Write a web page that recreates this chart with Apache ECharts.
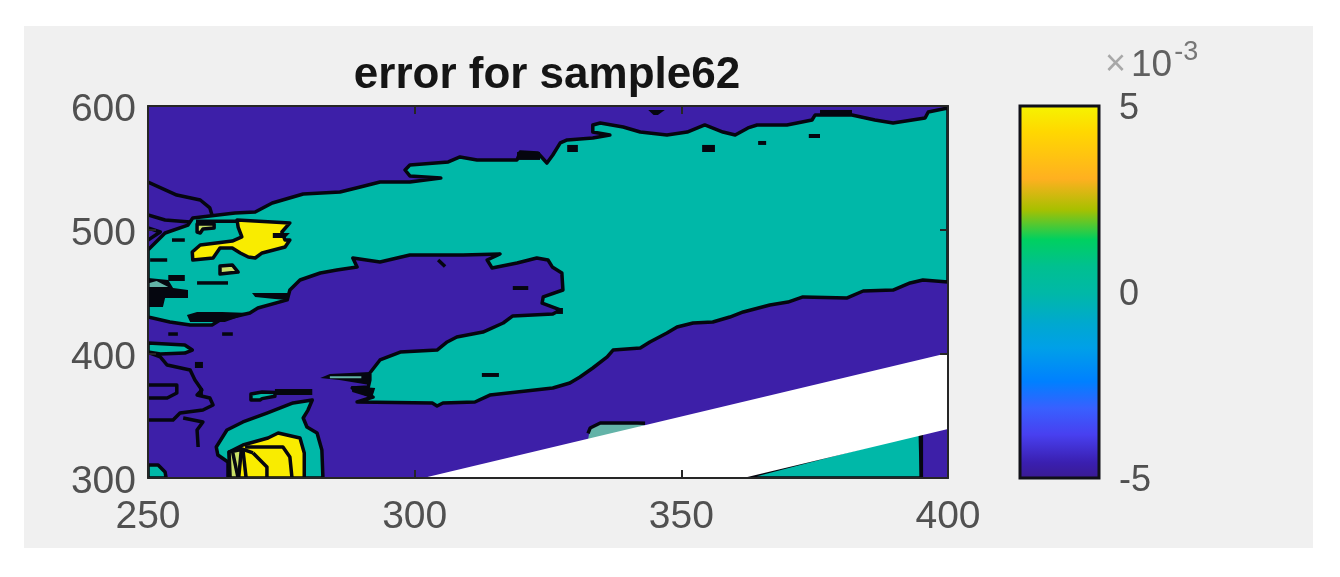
<!DOCTYPE html>
<html>
<head>
<meta charset="utf-8">
<title>error for sample62</title>
<script src="https://cdn.jsdelivr.net/npm/echarts@6/dist/echarts.min.js"></script>
<style>
html, body { margin: 0; padding: 0; background: #ffffff; }
#main { width: 1340px; height: 577px; }
</style>
</head>
<body>
<div id="main"></div>
<script>
// axis ranges and colour bar
var xRange = [250, 400];
var yRange = [300, 600];
var barRange = [-5, 5];
var barValues = [-5, -4.55, -3.8, -3.1, -2.39, -1.49, -0.86, -0.05, 0.68, 1.4, 2.2, 3.02, 4.28, 5];
var barColors = ['#3a1a90', '#3a1fb0', '#4840f0', '#3860ff', '#0080ff', '#00a0e8', '#00a8d0', '#00b8a8', '#00c090', '#00d060', '#a8c000', '#ffb020', '#ffd800', '#f5f500'];

// contour regions, in data units (x, y)
var lowRegions = [[[250, 300], [400, 300], [400, 600], [250, 600]]];

var zeroRegions = [
    [[250, 483.9], [253.2, 497.6], [257.5, 504], [258.4, 509.7], [266.3, 513.7], [270.1, 514.5], [273.3, 521.8], [279.1, 529],
     [286, 530.7], [289.8, 534.7], [293.5, 538.7], [299.1, 538.7], [304.9, 541.9], [299.1, 543.6], [298.2, 548.4], [299.1, 552.4],
     [306.3, 554.9], [308.5, 558.9], [311.7, 556.5], [319.2, 556.5], [319.8, 562.9], [323.1, 562.1], [324.8, 554], [325.9, 560.5],
     [327.3, 570.2], [328.6, 572.6], [333.4, 574.2], [336.6, 576.6], [333.4, 579], [333.4, 584.7], [334.8, 586.3], [339.1, 583.1],
     [342.3, 579], [347.3, 576.6], [351.1, 579], [354.4, 584.7], [357.8, 579], [360.1, 576.6], [362.5, 582.3], [364.2, 584.7],
     [369.8, 584.7], [371.7, 586.3], [374.5, 588.7], [375.1, 592.8], [382, 592.8], [386.3, 588.7], [389.7, 586.3], [395.7, 590.3],
     [396.3, 595.2], [400, 598.4], [400, 458.1], [395.3, 459.7], [392.9, 457.3], [389.7, 451.6], [384.1, 450.8], [381.1, 445.2],
     [372.8, 446], [370, 441.9], [366.6, 439.5], [361.6, 433.9], [359.1, 429.8], [355.9, 425.8], [352.2, 425], [349.2, 421.8],
     [347.3, 416.9], [344.1, 409.7], [342.3, 404.8], [337.2, 403.2], [336.1, 397.6], [333.4, 388.7], [331, 381.5], [329.1, 376.6],
     [325.9, 372.6], [319.2, 369.4], [314.1, 366.9], [311.3, 361.3], [305.3, 360.5], [304.2, 358.1], [303.3, 360.5], [289.2, 361.3],
     [292.2, 365.3], [288.3, 372.6], [291.3, 373.4], [291.6, 379], [291.6, 384.7], [293.5, 395.2], [297.3, 401.6], [304.2, 403.2],
     [306.1, 409.7], [307.9, 413.7], [312.8, 417.7], [316.6, 425], [318.4, 430.7], [325.9, 432.3], [327.3, 435.5], [323.9, 441.1],
     [324.1, 446], [327.8, 451.6], [327.6, 465.3], [325.8, 470.2], [325, 475.8], [322.9, 477.4], [319.2, 473.4], [314.5, 469.4],
     [313.6, 475.8], [316, 480.7], [309.1, 479.8], [299.1, 479.8], [293.5, 474.2], [288.4, 477.4], [289.2, 470.2], [285.4, 467.7],
     [282.3, 465.3], [278.5, 459.7], [276.6, 451.6], [276.1, 443.6], [270.6, 437.1], [269.1, 433.1], [263.5, 427.4], [262, 423.4],
     [257.9, 423.4], [254.1, 425.8], [250, 429.8]],
    [[250, 408.9], [256.9, 407.3], [258.3, 403.2], [256.9, 400.8], [252.3, 400], [250, 401.6]],
    [[250, 310.5], [251.9, 310.5], [253.2, 304.8], [253.4, 300], [250, 300]],
    [[269.3, 367.7], [271.4, 369.4], [273.8, 369], [273.8, 366], [271.4, 364], [271, 362.9], [269.3, 362.9]],
    [[265, 300], [265, 312.9], [263.1, 318.5], [262.8, 325], [264.8, 338.7], [267.8, 345.2], [272.3, 352.4], [277.2, 360.5],
     [280.8, 362.9], [280, 354.8], [279.1, 348.4], [279.8, 341.1], [281.7, 336.3], [282.6, 322.6], [282.8, 300]],
    [[361.6, 300], [394.8, 337], [395, 300]]
];

var highRegions = [
    [[266.7, 508.1], [276.6, 505.7], [275.1, 498.4], [275.7, 491.9], [276.6, 491.9], [275.7, 486.3], [271.4, 481.5], [270.1, 477.4],
     [268.8, 478.2], [267.3, 481.5], [265.8, 485.5], [263.5, 485.5], [262.2, 477.4], [258.4, 475.8], [258.3, 482.3], [259.8, 487.9],
     [265.8, 491.1], [267.6, 494.4], [266.9, 502.4]],
    [[265.4, 300], [265.2, 321], [267.8, 326.6], [272.5, 332.3], [274.4, 336.3], [278.5, 332.3], [279.3, 320.2], [279.3, 300]]
];

var paleRegions = [
    [[259.2, 504.9], [262.4, 504.9], [262.4, 501.6], [260.3, 500.8], [259.8, 497.6], [259.2, 498.4]],
    [[263.5, 471], [265.8, 471.8], [266.9, 466.1], [263.5, 464.5]],
    [[265.4, 300], [265.2, 321], [267.5, 323], [267, 300]]
];

var darkBlobs = [
    [[250, 461.3], [253.8, 459.7], [254.7, 453.2], [257.5, 451.6], [257.5, 445.2], [253.2, 445.2], [252.8, 437.9], [250, 437.9]],
    [[253.8, 458.9], [256.9, 458.9], [256.9, 463.7], [253.8, 463.7]],
    [[273.4, 493.6], [275.7, 493.6], [276.6, 497.6], [273.4, 497.6]],
    [[269.5, 449.2], [276.6, 449.2], [276.1, 443.6], [273.8, 444.4], [270.1, 446]],
    [[257.3, 431.5], [259.2, 433.9], [263.9, 433.9], [269.1, 433.1], [264.4, 425.8], [257.9, 425.8]],
    [[273.8, 371.8], [280.8, 371.8], [280.8, 366.9], [273.8, 366.9]],
    [[282.3, 380.6], [284.1, 383.9], [291.6, 385.5], [291.6, 375], [285.9, 379]],
    [[288.1, 374.2], [292.6, 372.6], [292, 364.5], [288.3, 369.4]],
    [[258.8, 393.6], [260.3, 393.6], [260.3, 388.7], [258.8, 388.7]],
    [[259.6, 372.6], [260.3, 372.6], [260.3, 366.9], [259.6, 366.9]],
    [[319.2, 562.9], [323.5, 562.9], [323.5, 556.5], [319.2, 556.5]],
    [[328.6, 568.6], [330.6, 568.6], [330.6, 562.9], [328.6, 562.9]],
    [[343.8, 596.8], [346.9, 596.8], [345.6, 592.8], [344.8, 592.8]],
    [[353.9, 568.6], [356.3, 568.6], [356.3, 562.9], [353.9, 562.9]],
    [[364.4, 571.8], [365.9, 571.8], [365.9, 568.6], [364.4, 568.6]],
    [[373.9, 577.4], [376, 577.4], [376, 574.2], [373.9, 574.2]],
    [[376, 596.8], [382, 596.8], [382, 592.8], [376, 592.8]],
    [[312.6, 384.7], [315.8, 384.7], [315.8, 381.5], [312.6, 381.5]],
    [[318.4, 454.8], [321.3, 454.8], [321.3, 451.6], [318.4, 451.6]],
    [[326.7, 437.1], [327.8, 437.1], [327.8, 432.3], [326.7, 432.3]]
];

var sliverRegions = [
    [[250.3, 457.3], [251.6, 458.9], [253.8, 454], [250.3, 454]],
    [[284.1, 382], [290, 382], [290, 380.5], [284.1, 380.5]],
    [[332.5, 330.6], [332.9, 340.3], [334.8, 344.4], [341.7, 344.4], [343.2, 342.7], [334.8, 330.6]]
];

var gapRegions = [[[301.6, 300], [400, 400.8], [400, 339.5], [361.6, 300]]];

// open contour lines
var contourLines = [
    [[250, 538.7], [255.4, 528.2], [259.8, 524.2], [261.6, 517.8], [262, 512.1]],
    [[250, 512.1], [253.2, 508.1], [257.9, 506.5]],
    [[250, 501.6], [252.3, 498.4], [250, 491.9]],
    [[250.4, 475.8], [253.6, 475.8]],
    [[254.5, 491.9], [256.9, 491.9]],
    [[259.2, 457.3], [265, 457.3]],
    [[259, 507], [266.7, 507]],
    [[250.4, 400.8], [252.3, 397.6], [253.6, 391.1], [257.9, 387.1], [258.8, 379], [260.1, 371], [259.2, 366.9], [261.6, 364.5], [262.2, 358.9], [260.3, 354.8], [256, 352.4], [254.7, 346.8], [250, 346.8]],
    [[250, 375], [255.4, 375], [255.4, 368.5], [253.6, 364.5], [250, 364.5]],
    [[256.6, 348.4], [260.3, 345.2], [259.2, 338.7], [259.4, 325]],
    [[253.8, 416.1], [255.6, 416.1]],
    [[263.9, 416.1], [265.9, 416.1]],
    [[304.4, 475.8], [305.7, 470.5]],
    [[268.2, 325], [275.3, 325], [276.6, 316.9], [277, 300]],
    [[265.9, 320.2], [266.9, 300]],
    [[267.8, 322.6], [268.4, 300]],
    [[269.7, 320.2], [272.3, 308.9], [272.3, 300]],
    [[267.2, 324], [269.7, 320.2]],
    [[332.5, 336], [332.9, 340.3], [334.8, 344.4], [341.7, 344.4], [343.2, 344.2]],
    [[395, 300], [395, 337]]
];

var chart = echarts.init(document.getElementById('main'));

function regionSeries(shapes, fill, lineWidth) {
    return {
        type: 'custom',
        coordinateSystem: 'cartesian2d',
        xAxisIndex: 0,
        yAxisIndex: 0,
        clip: true,
        silent: true,
        data: shapes.map(function (s, i) { return [i]; }),
        renderItem: function (params, api) {
            var points = shapes[params.dataIndex].map(function (p) { return api.coord(p); });
            return {
                type: 'polygon',
                shape: { points: points },
                style: {
                    fill: fill,
                    stroke: lineWidth ? '#05060f' : null,
                    lineWidth: lineWidth,
                    lineJoin: 'round'
                }
            };
        }
    };
}

function lineSeries(lines) {
    return {
        type: 'custom',
        coordinateSystem: 'cartesian2d',
        xAxisIndex: 0,
        yAxisIndex: 0,
        clip: true,
        silent: true,
        data: lines.map(function (s, i) { return [i]; }),
        renderItem: function (params, api) {
            var points = lines[params.dataIndex].map(function (p) { return api.coord(p); });
            return {
                type: 'polyline',
                shape: { points: points },
                style: { fill: null, stroke: '#05060f', lineWidth: 3.5, lineJoin: 'round' }
            };
        }
    };
}

var barStops = barValues.map(function (v, i) {
    return { offset: (v - barRange[0]) / (barRange[1] - barRange[0]), color: barColors[i] };
});

var tickColor = '#262626';
var tickLabel = { color: '#505050', fontSize: 39, fontFamily: 'Liberation Sans' };

var option = {
    animation: false,
    backgroundColor: '#ffffff',
    graphic: [{
        type: 'rect',
        z: -10,
        shape: { x: 24, y: 26, width: 1289, height: 522 },
        style: { fill: '#f0f0f0' }
    }],
    title: {
        text: 'error for sample62',
        left: 542,
        top: 49,
        textAlign: 'center',
        textStyle: { color: '#151515', fontSize: 44, fontWeight: 'bold', fontFamily: 'Liberation Sans' }
    },
    grid: [
        { left: 148, top: 106, width: 800, height: 372 },
        { left: 1020, top: 106, width: 79, height: 372 }
    ],
    xAxis: [{
        type: 'value', gridIndex: 0, min: xRange[0], max: xRange[1], interval: 50, z: 5,
        splitLine: { show: false },
        axisLine: { lineStyle: { color: tickColor, width: 2 } },
        axisTick: { inside: true, length: 8, lineStyle: { color: tickColor, width: 2 } },
        axisLabel: Object.assign({ margin: 20 }, tickLabel)
    }, {
        type: 'value', gridIndex: 0, position: 'top', min: xRange[0], max: xRange[1], interval: 50, z: 5,
        splitLine: { show: false },
        axisLine: { lineStyle: { color: tickColor, width: 2 } },
        axisTick: { inside: true, length: 8, lineStyle: { color: tickColor, width: 2 } },
        axisLabel: { show: false }
    }, {
        type: 'value', gridIndex: 1, min: 0, max: 1, show: false
    }],
    yAxis: [{
        type: 'value', gridIndex: 0, min: yRange[0], max: yRange[1], interval: 100, z: 5,
        splitLine: { show: false },
        axisLine: { lineStyle: { color: tickColor, width: 2 } },
        axisTick: { inside: true, length: 8, lineStyle: { color: tickColor, width: 2 } },
        axisLabel: {
            margin: 12,
            formatter: '{a|{value}}',
            rich: { a: Object.assign({ padding: [9, 0, 0, 0] }, tickLabel) }
        }
    }, {
        type: 'value', gridIndex: 0, position: 'right', min: yRange[0], max: yRange[1], interval: 100, z: 5,
        splitLine: { show: false },
        axisLine: { lineStyle: { color: tickColor, width: 2 } },
        axisTick: { inside: true, length: 8, lineStyle: { color: tickColor, width: 2 } },
        axisLabel: { show: false }
    }, {
        type: 'value', gridIndex: 1, position: 'right', min: barRange[0], max: barRange[1], interval: 5,
        splitLine: { show: false },
        axisLine: { show: false },
        axisTick: { show: false },
        axisLabel: {
            margin: 20,
            align: 'left',
            formatter: '{a|{value}}',
            rich: { a: Object.assign({}, tickLabel, { fontSize: 36, padding: [6, 0, 0, 0] }) }
        },
        name: '{x|×}{t|10}{e|-3}',
        nameLocation: 'end',
        nameGap: 14,
        nameTextStyle: {
            align: 'left',
            rich: {
                x: { fontSize: 36, color: '#a8a8a8', fontFamily: 'Liberation Sans', padding: [0, 5, 0, 85] },
                t: { fontSize: 37, color: '#606060', fontFamily: 'Liberation Sans' },
                e: { fontSize: 27, color: '#777777', fontFamily: 'Liberation Sans', padding: [0, 0, 26, 2] }
            }
        }
    }],
    series: [
        regionSeries(lowRegions, '#3d1fa8', 0),
        regionSeries(zeroRegions, '#00b8a8', 3.5),
        regionSeries(highRegions, '#f9ec00', 3.5),
        regionSeries(paleRegions, '#c9de66', 3.5),
        regionSeries(darkBlobs, '#05060f', 0),
        regionSeries(sliverRegions, '#63b3a8', 0),
        lineSeries(contourLines),
        regionSeries(gapRegions, '#ffffff', 0),
        {
            type: 'custom',
            coordinateSystem: 'cartesian2d',
            xAxisIndex: 2,
            yAxisIndex: 2,
            silent: true,
            data: [[0]],
            renderItem: function (params, api) {
                var low = api.coord([0, barRange[0]]);
                var high = api.coord([1, barRange[1]]);
                return {
                    type: 'rect',
                    shape: { x: low[0], y: high[1], width: high[0] - low[0], height: low[1] - high[1] },
                    style: {
                        fill: new echarts.graphic.LinearGradient(0, 1, 0, 0, barStops),
                        stroke: '#101018',
                        lineWidth: 3
                    }
                };
            }
        }
    ]
};

chart.setOption(option);
</script>
</body>
</html>
